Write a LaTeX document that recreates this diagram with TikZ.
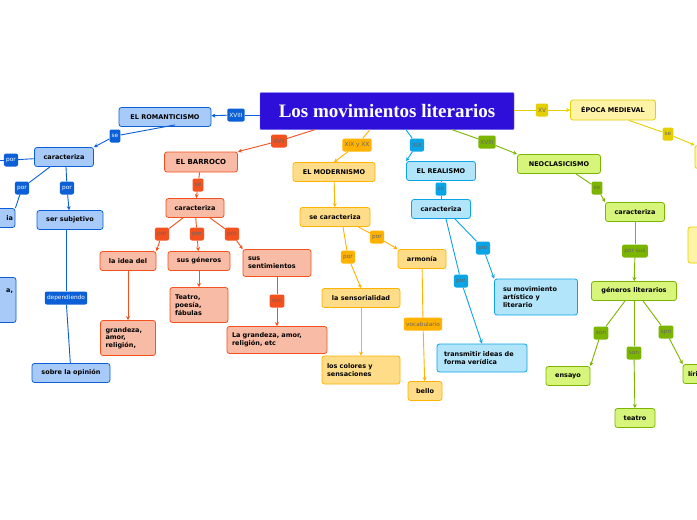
\documentclass[tikz,border=0pt]{standalone}
\usepackage{fontspec}
\setmainfont{DejaVu Sans}
\newfontfamily\titlefont{Liberation Serif}
\usetikzlibrary{arrows.meta}
\definecolor{bD}{HTML}{0B5FD7}\definecolor{bL}{HTML}{A8CAF8}
\definecolor{oD}{HTML}{F4511E}\definecolor{oL}{HTML}{F8BBA5}
\definecolor{yD}{HTML}{FFB300}\definecolor{yL}{HTML}{FFDD88}
\definecolor{cD}{HTML}{0AA5E6}\definecolor{cL}{HTML}{B3E5FA}
\definecolor{gD}{HTML}{7CB500}\definecolor{gL}{HTML}{D6F57A}
\definecolor{pD}{HTML}{E6CF00}\definecolor{pL}{HTML}{FFF3A8}
\definecolor{tB}{HTML}{2E0FD9}
\tikzset{
 box/.style={draw=#1D,fill=#1L,line width=0.8pt,rounded corners=2.5pt,font=\bfseries\fontsize{6.5}{7.7}\selectfont,align=left,inner sep=0pt,minimum height=19pt},
 lab/.style={fill=#1D,rounded corners=2pt,font=\fontsize{5.8}{6}\selectfont,text=black!60,inner sep=2.2pt,minimum height=13pt},
 wlab/.style={lab=#1,text=white},
 ed/.style={draw=#1D,line width=0.9pt},
 ar/.style={draw=#1D,line width=0.9pt,-{Stealth[length=4pt,width=4pt]}},
}
\begin{document}
\begin{tikzpicture}[x=1pt,y=-1pt]
\useasboundingbox (0,0) rectangle (697,520);
\clip (0,0) rectangle (697,520);
\fill[white] (0,0) rectangle (697,520);
% title
\node[fill=tB,draw=blue!60,minimum width=254pt,minimum height=37pt,text=white,font=\titlefont\bfseries\fontsize{19}{20}\selectfont,rounded corners=1pt] (T) at (387,111) {Los movimientos literarios};
% romanticism
\node[box=b,minimum width=92pt,align=center] (rom) at (165,117) {EL ROMANTICISMO};
\node[wlab=b] (l1) at (236,115) {XVIII};
\node[wlab=b] (l2) at (115,136) {se};
\node[box=b,minimum width=59pt,align=center] (rc) at (64,157) {caracteriza};
\node[wlab=b] (l3) at (11,160) {por};
\node[wlab=b] (l4) at (22,188) {por};
\node[wlab=b] (l5) at (67,188) {por};
\node[box=b,minimum width=30pt,text width=26pt,align=right] (ri) at (0,218) {ia};
\node[box=b,minimum width=70pt,minimum height=45pt,text width=64pt,align=right] (rg) at (-19,300) {a,\\[10pt]\ };
\node[box=b,minimum width=66pt,align=center] (rs) at (70,220) {ser subjetivo};
\node[wlab=b] (l6) at (66,298) {dependiendo};
\node[box=b,minimum width=78pt,align=center] (ro) at (71,373) {sobre la opinión};
\coordinate (rl) at (-5,160);
\draw[ed=b] (T.west|-l1) -- (l1); \draw[ar=b] (l1) -- (rom);
\draw[ed=b] (rom.south) ++(10,-2) -- (l2); \draw[ar=b] (l2) -- (rc.north east);
\draw[ed=b] (rc) -- (l3); \draw[ed=b] (l3) -- (rl);
\draw[ed=b] (rc.south) ++(-14,0) -- (l4); \draw[ed=b] (l4) -- (ri.north east);
\draw[ed=b] (rc.south) ++(2,0) -- (l5); \draw[ar=b] (l5) -- (rs);
\draw[ed=b] (rs.south) ++(-4,0) -- (l6); \draw[ed=b] (l6) -- (ro);
% barroco
\node[lab=o] (o1) at (279,141) {XVII};
\node[box=o,minimum width=73pt,minimum height=20pt,align=center,font=\bfseries\fontsize{7}{8}\selectfont] (bar) at (201,162) {EL BARROCO};
\node[lab=o] (o2) at (198,185) {se};
\node[box=o,minimum width=58pt,align=center] (bc) at (195,208) {caracteriza};
\node[lab=o] (o3) at (162,234) {por};
\node[lab=o] (o4) at (197,234) {por};
\node[lab=o] (o5) at (232,234) {por};
\node[box=o,minimum width=56pt,align=center] (bi) at (128,261) {la idea del};
\node[box=o,minimum width=62pt,align=center] (bg) at (199,261) {sus géneros};
\node[box=o,minimum width=68pt,minimum height=27pt,text width=58pt] (bs) at (277,263) {sus\\sentimientos};
\node[box=o,minimum width=58pt,minimum height=35pt,text width=48pt] (bt) at (199,305) {Teatro,\\poesía,\\fábulas};
\node[box=o,minimum width=55pt,minimum height=35pt,text width=45pt] (ba) at (128,338) {grandeza,\\amor,\\religión,};
\node[lab=o] (o6) at (277,301) {son};
\node[box=o,minimum width=100pt,minimum height=27pt,text width=90pt] (bl) at (277,340) {La grandeza, amor,\\religión, etc};
\draw[ed=o] (T.south west) ++(55,0) -- (o1); \draw[ar=o] (o1) -- (bar.north east);
\draw[ed=o] (bar) -- (o2); \draw[ar=o] (o2) -- (bc);
\draw[ed=o] (bc.south) ++(-12,0) -- (o3); \draw[ar=o] (o3) -- (bi.north east);
\draw[ed=o] (bc) -- (o4); \draw[ar=o] (o4) -- (bg);
\draw[ed=o] (bc.south) ++(15,0) -- (o5); \draw[ar=o] (o5) -- (bs.north west);
\draw[ar=o] (bi) -- (ba); \draw[ar=o] (bg) -- (bt);
\draw[ed=o] (bs) -- (o6); \draw[ar=o] (o6) -- (bl);
% modernismo
\node[lab=y] (y1) at (357,145) {XIX y XX};
\node[box=y,minimum width=82pt,align=center] (mod) at (334,172) {EL MODERNISMO};
\node[box=y,minimum width=70pt,align=center] (mc) at (335,217) {se caracteriza};
\node[lab=y] (y2) at (377,237) {por};
\node[lab=y] (y3) at (348,257) {por};
\node[box=y,minimum width=48pt,align=center] (ma) at (422,259) {armonía};
\node[box=y,minimum width=78pt,align=center] (ms) at (361,298) {la sensorialidad};
\node[box=y,minimum width=78pt,minimum height=28pt,text width=68pt] (mcol) at (361,370) {los colores y\\sensaciones};
\node[lab=y] (y4) at (423,324) {vocabulario};
\node[box=y,minimum width=34pt,align=center] (mb) at (425,391) {bello};
\draw[ed=y] (T.south) ++(-17,0) -- (y1); \draw[ar=y] (y1) -- (mod.north);
\draw[ar=y] (mod) -- (mc);
\draw[ed=y] (mc.south east) ++(-12,0) -- (y2); \draw[ar=y] (y2) -- (ma.north west);
\draw[ed=y] (mc.south) ++(8,0) -- (y3); \draw[ar=y] (y3) -- (ms.north);
\draw[ar=y] (ms) -- (mcol);
\draw[ed=y] (ma) -- (y4); \draw[ar=y] (y4) -- (mb);
% realismo
\node[lab=c] (c1) at (417,145) {XIX};
\node[box=c,minimum width=69pt,align=center] (rea) at (441,171) {EL REALISMO};
\node[lab=c] (c2) at (441,189) {se};
\node[box=c,minimum width=59pt,align=center] (cc) at (441,209) {caracteriza};
\node[lab=c] (c3) at (483,248) {por};
\node[lab=c] (c4) at (461,281) {por};
\node[box=c,minimum width=83pt,minimum height=36pt,text width=66pt] (cm) at (536,297) {su movimiento\\artístico y\\literario};
\node[box=c,minimum width=90pt,minimum height=28pt,text width=76pt] (ct) at (482,358) {transmitir ideas de\\forma verídica};
\draw[ed=c] (T.south) ++(19,0) -- (c1); \draw[ar=c] (c1) -- (rea.north west);
\draw[ed=c] (rea) -- (c2); \draw[ed=c] (c2) -- (cc);
\draw[ed=c] (cc.south east) ++(-16,0) -- (c3); \draw[ar=c] (c3) -- (cm.north west);
\draw[ed=c] (cc.south) ++(5,0) -- (c4); \draw[ar=c] (c4) -- (ct.north);
% neoclasicismo
\node[lab=g] (g1) at (487,142) {XVIII};
\node[box=g,minimum width=83pt,align=center] (neo) at (559,164) {NEOCLASICISMO};
\node[lab=g] (g2) at (597,188) {se};
\node[box=g,minimum width=59pt,align=center] (gc) at (635,212) {caracteriza};
\node[lab=g] (g3) at (635,251) {por sus};
\node[box=g,minimum width=85pt,align=center] (gg) at (634,291) {géneros literarios};
\node[lab=g] (g4) at (601,333) {son};
\node[lab=g] (g5) at (634,353) {son};
\node[lab=g] (g6) at (666,332) {spn};
\node[box=g,minimum width=44pt,align=center] (ge) at (568,376) {ensayo};
\node[box=g,minimum width=40pt,align=center] (gt) at (635,418) {teatro};
\node[box=g,minimum width=54pt,align=left,text width=44pt] (gl) at (710,374) {lírica};
\draw[ed=g] (T.south east) ++(-62,0) -- (g1); \draw[ar=g] (g1) -- (neo.north west);
\draw[ed=g] (neo.south) ++(17,0) -- (g2); \draw[ar=g] (g2) -- (gc.north west);
\draw[ed=g] (gc) -- (g3); \draw[ar=g] (g3) -- (gg);
\draw[ed=g] (gg.south) ++(-9,0) -- (g4); \draw[ar=g] (g4) -- (ge.north east);
\draw[ed=g] (gg) -- (g5); \draw[ar=g] (g5) -- (gt);
\draw[ed=g] (gg.south) ++(9,0) -- (g6); \draw[ar=g] (g6) -- (gl.north west);
% medieval
\node[lab=p] (p1) at (542,110) {XV};
\node[box=p,minimum width=85pt,minimum height=20pt,align=center] (med) at (613,110) {ÉPOCA MEDIEVAL};
\node[lab=p] (p2) at (668,134) {se};
\node[box=p,minimum width=40pt,minimum height=23pt] (pc) at (715,157) {};
\node[box=p,minimum width=54pt,minimum height=36pt] (pb) at (715,245) {};
\draw[ed=p] (T.east|-p1) -- (p1); \draw[ar=p] (p1) -- (med);
\draw[ed=p] (med.south) ++(16,0) -- (p2); \draw[ar=p] (p2) -- (pc.north west);
\end{tikzpicture}
\end{document}
